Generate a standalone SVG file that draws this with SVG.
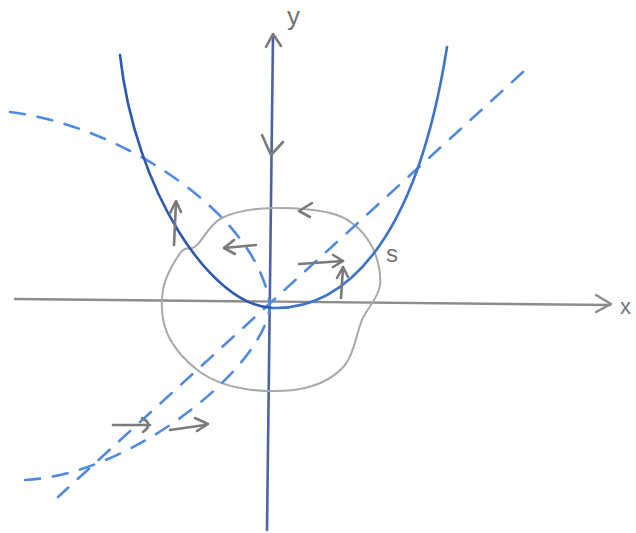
<svg xmlns="http://www.w3.org/2000/svg" width="636" height="533" viewBox="0 0 636 533">
<style>
.axis{fill:none;stroke:#8c8c8c;stroke-width:2.4;stroke-linecap:round;stroke-linejoin:round}
.yaxis{fill:none;stroke:#4b63a6;stroke-width:2.6;stroke-linecap:round}
.par{fill:none;stroke-width:2.6;stroke-linecap:round}
.dash{fill:none;stroke:#4f8ae0;stroke-width:2.6;stroke-linecap:round;stroke-dasharray:15 13}
.blob{fill:none;stroke:#a9a9a9;stroke-width:2}
.arr{fill:none;stroke:#7a7a7a;stroke-width:2.6;stroke-linecap:round;stroke-linejoin:round}
.lbl{font-family:"Liberation Sans",Arial,sans-serif;fill:#737373}
</style>
<rect width="636" height="533" fill="#ffffff"/>
<g id="axes">
  <path class="axis" d="M15,299 L610,305"/>
  <polyline class="axis" points="596,295 611,304 596,312"/>
  <path class="yaxis" d="M273,35 L267,530"/>
  <polyline class="arr" points="266,47 273,34 281,46"/>
  <polyline class="arr" points="262,135 271,155 283,142"/>
  <text class="lbl" x="620" y="314" font-size="22">x</text>
  <text class="lbl" x="287" y="25" font-size="26">y</text>
</g>
<g id="region-s">
  <path class="blob" d="M273,208 C292.2,207.5 320.8,209.2 337,215 C353.2,220.8 362.8,231.3 370,243 C377.2,254.7 381.3,272.2 380,285 C378.7,297.8 367.8,306.7 362,320 C356.2,333.3 354.5,353.7 345,365 C335.5,376.3 321.7,384 305,388 C288.3,392 262.5,391.7 245,389 C227.5,386.3 212.8,381 200,372 C187.2,363 174.2,348.7 168,335 C161.8,321.3 160.8,303.8 163,290 C165.2,276.2 175.5,259.3 181,252 C186.5,244.7 189.2,251.7 196,246 C202.8,240.3 209.2,224.3 222,218 C234.8,211.7 253.8,208.5 273,208 Z"/>
  <polyline class="arr" points="312,203 299,211 310,217"/>
  <text class="lbl" x="386" y="262" font-size="24">s</text>
</g>
<g id="curves">
  <path class="dash" d="M523,72 L58,497"/>
  <path class="dash" d="M10,112 C120,125 260,215 270,307 C262,370 130,475 25,480"/>
  <path class="par" stroke="#2f58b3" d="M120,55 C135,190 210,305 272,308"/>
  <path class="par" stroke="#3c73cc" d="M272,308 C340,310 415,250 447,47"/>
</g>
<g id="field-arrows">
  <path class="arr" d="M174,245 L176,202"/>
  <polyline class="arr" points="170,213 176,201 181,212"/>
  <path class="arr" d="M256,245 L224,248"/>
  <polyline class="arr" points="234,240 224,248 235,254"/>
  <path class="arr" d="M299,264 L343,261"/>
  <polyline class="arr" points="333,255 343,261 333,267"/>
  <path class="arr" d="M341,298 L343,268"/>
  <polyline class="arr" points="337,278 343,267 348,277"/>
  <path class="arr" d="M113,425 L150,425"/>
  <path class="arr" d="M142,418 Q154,424 143,432"/>
  <path class="arr" d="M170,430 L205,425"/>
  <polyline class="arr" points="195,418 208,424 197,431"/>
</g>
</svg>
